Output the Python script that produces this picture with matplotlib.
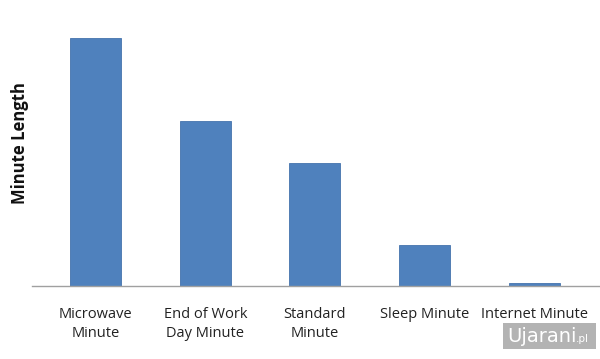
import matplotlib
matplotlib.use("Agg")
import matplotlib.pyplot as plt
from matplotlib.patches import Rectangle

categories = ["Microwave\nMinute", "End of Work\nDay Minute", "Standard\nMinute", "Sleep Minute", "Internet Minute"]
values = [248, 165, 123, 41, 3]

W, H = 600, 359
fig = plt.figure(figsize=(W/100, H/100), dpi=100)
ax = fig.add_axes([32/W, (H-286)/H, (600-32)/W, (286-20)/H])
x = list(range(len(categories)))
ax.bar(x, values, width=0.465, color="#4F81BD", edgecolor="#4573AD", linewidth=0.6)
ax.set_xlim(-0.58, 4.6)
ax.set_ylim(0, 266)
for s in ["top", "right", "left"]:
    ax.spines[s].set_visible(False)
ax.spines["bottom"].set_color("#A0A0A0")
ax.spines["bottom"].set_linewidth(1.0)
ax.set_yticks([])
ax.set_xticks(x)
ax.set_xticklabels(categories, fontsize=10.5, family="Open Sans", color="#222222", linespacing=1.4)
ax.tick_params(axis="x", length=0, pad=15)
fig.text(20/W, (H-143)/H, "Minute Length", rotation=90, ha="center", va="center",
         fontsize=12, fontweight="bold", family="Open Sans", color="#111111")

# watermark
fig.patches.append(Rectangle((503/W, (H-349)/H), 93/W, 26/H, transform=fig.transFigure,
                             facecolor="#B3B3B3", edgecolor="none"))
fig.text(507/W, (H-336)/H, "Ujarani", fontsize=14, color="white", family="DejaVu Sans",
         fontweight="medium", va="center", ha="left")
fig.text(576/W, (H-339)/H, ".pl", fontsize=7.5, color="white", family="DejaVu Sans", va="center", ha="left")

fig.savefig("out.png", dpi=100)
